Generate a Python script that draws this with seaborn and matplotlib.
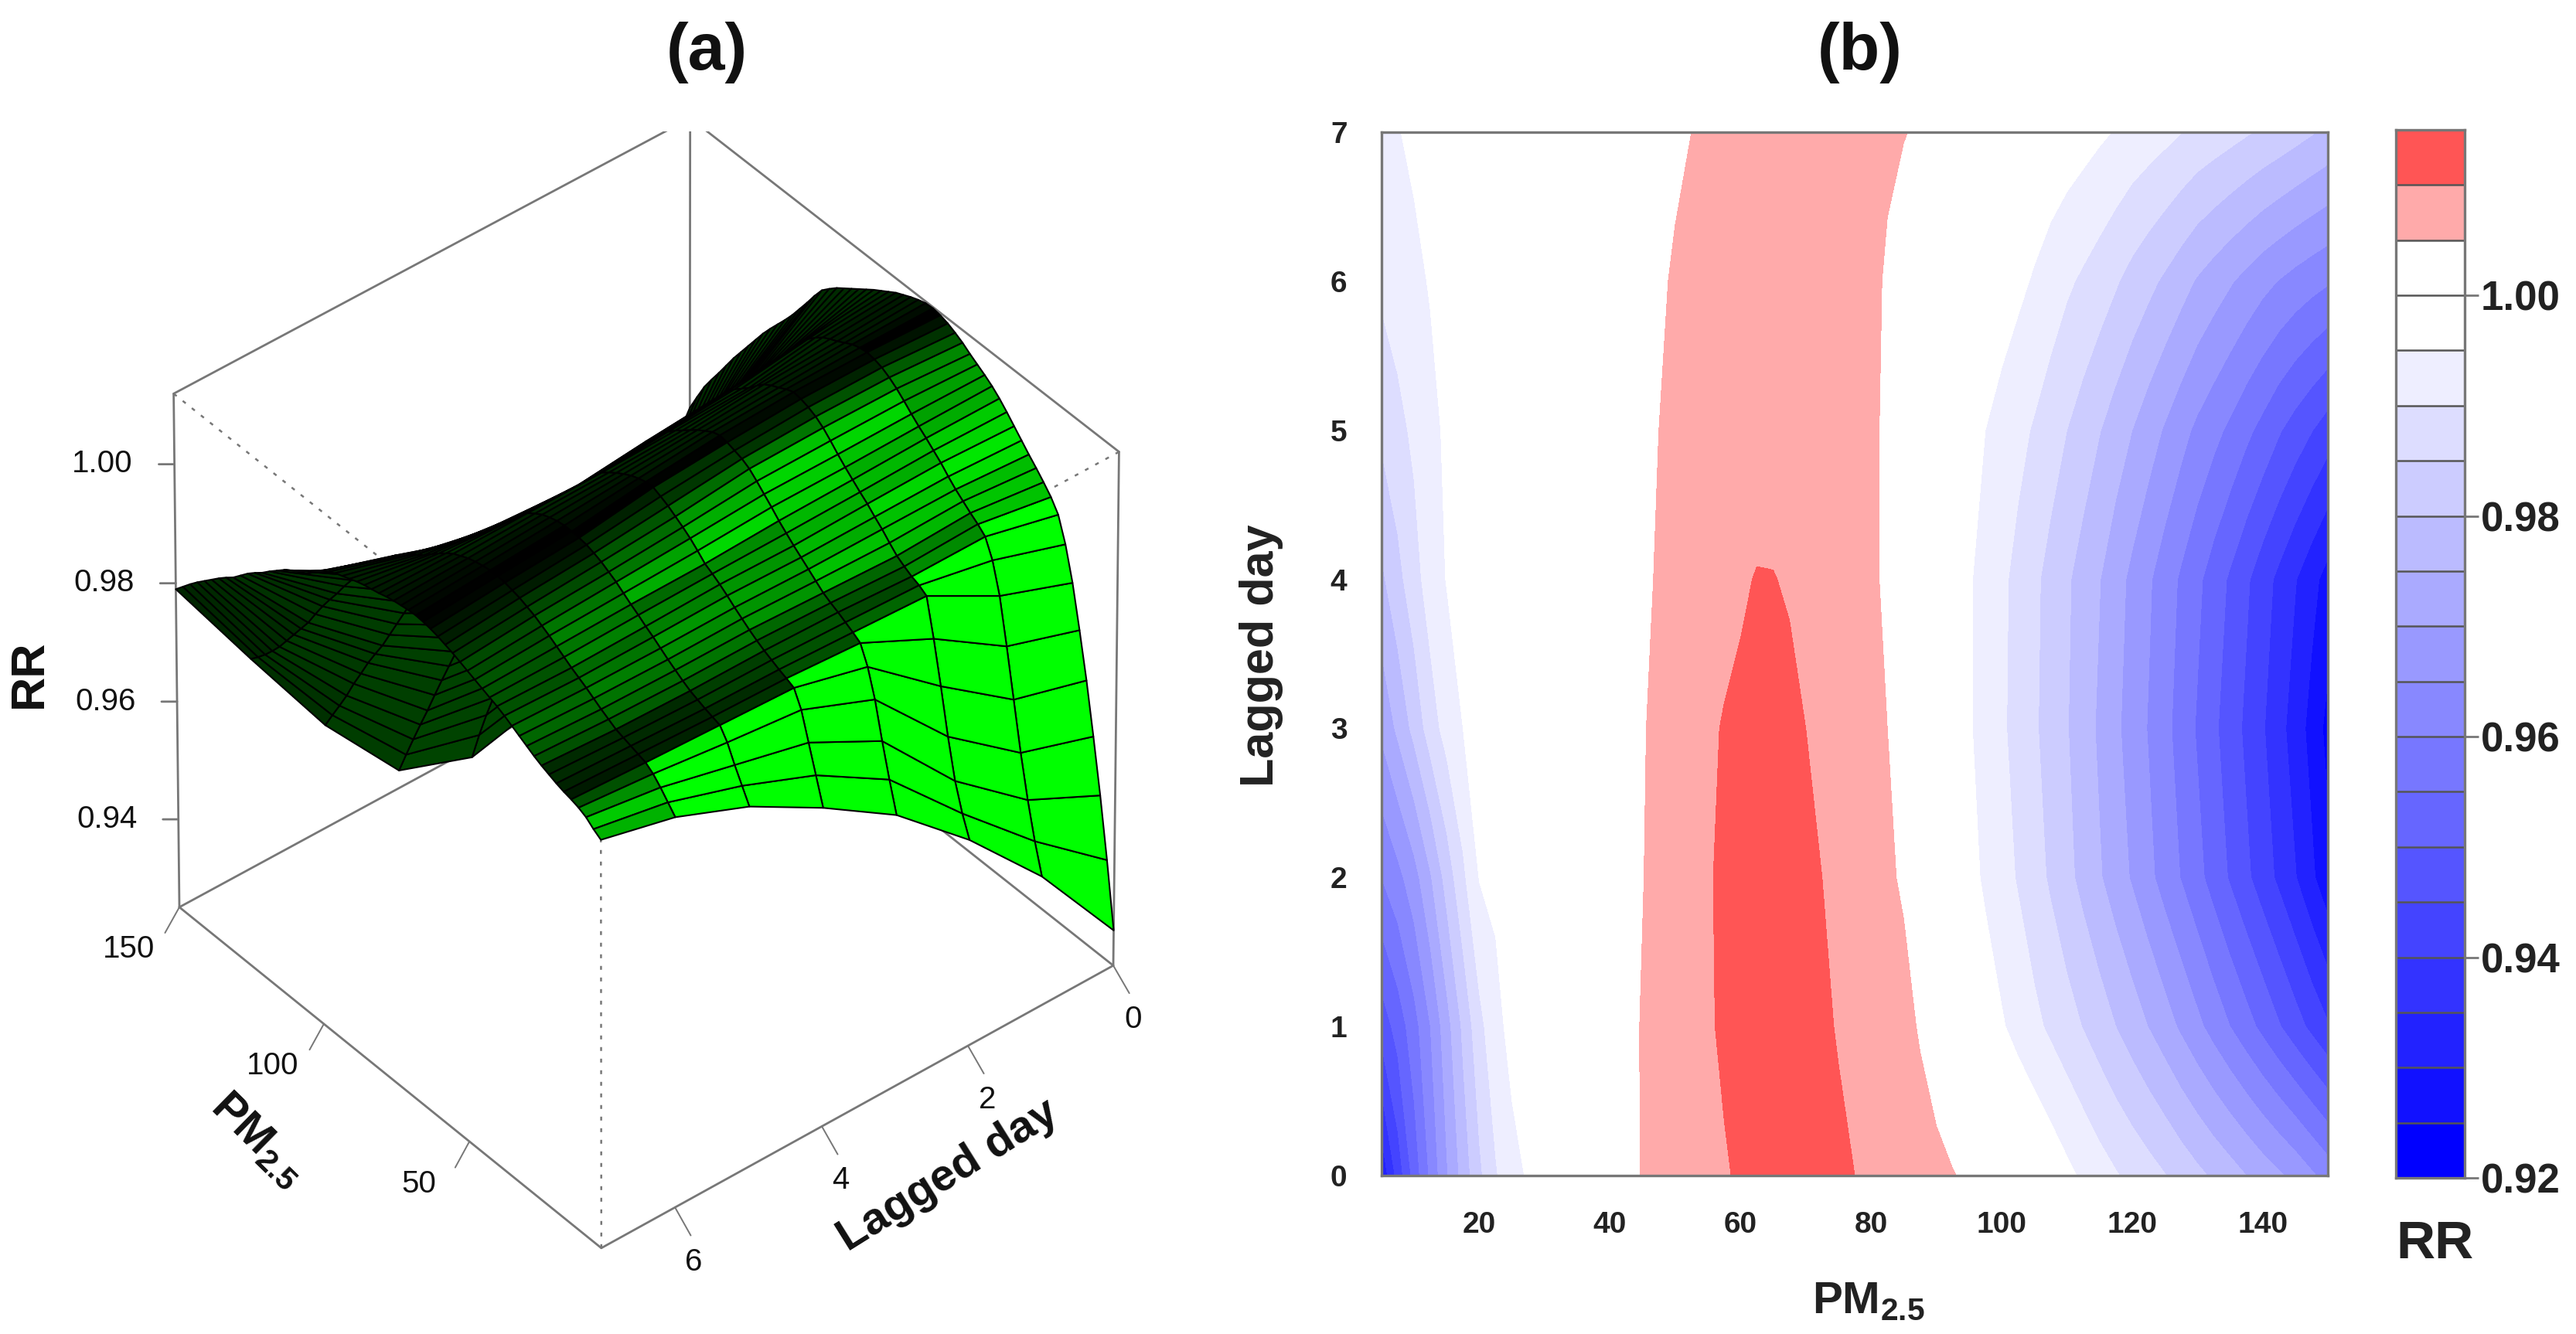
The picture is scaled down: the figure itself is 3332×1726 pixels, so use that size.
import numpy as np
import matplotlib
matplotlib.use("Agg")
import matplotlib.pyplot as plt
import seaborn as sns
from matplotlib.colors import BoundaryNorm, ListedColormap
from mpl_toolkits.mplot3d import proj3d

# values
pm = [5, 7.5, 10, 12.5, 15, 17.5, 20, 22.5, 25, 27.5, 30, 32.5, 35, 37.5, 40, 42.5, 45, 47.5, 50, 52.5,
      55, 57.5, 60, 62.5, 65, 67.5, 70, 72.5, 75, 77.5, 80, 82.5, 85, 87.5, 90, 92.5, 95, 97.5, 100, 102.5,
      105, 107.5, 110, 112.5, 115, 117.5, 120, 122.5, 125, 127.5, 130, 132.5, 135, 137.5, 140, 142.5, 145, 147.5, 150]
lag = [0, 1, 2, 3, 4, 5, 6, 7]
rr_lag0 = [.931, .942, .952, .961, .9695, .977, .984, .9895, .9935, .9955, .997, .9984, .9997, 1.0011, 1.0025, 1.0039,
           1.0052, 1.0063, 1.0072, 1.008, 1.0088, 1.0097, 1.0104, 1.011, 1.0114, 1.0116, 1.0115, 1.0111, 1.0106, 1.01,
           1.0094, 1.0086, 1.0078, 1.007, 1.0061, 1.0052, 1.0043, 1.0034, 1.0025, 1.0014, 1.0002, .9983, .9962, .9942,
           .9922, .9904, .9887, .987, .9852, .9832, .9812, .9792, .9772, .975, .9728, .9707, .9685, .9658, .963]
rr_lag1 = [.947, .952, .958, .965, .973, .981, .9885, .9935, .9965, .9976, .9985, .9995, 1.0005, 1.0017, 1.003, 1.0041,
           1.0052, 1.0062, 1.0073, 1.0085, 1.0096, 1.0105, 1.0112, 1.0116, 1.0118, 1.0116, 1.0112, 1.0105, 1.0098, 1.0092,
           1.0085, 1.0075, 1.0063, 1.0046, 1.0028, 1.001, .9992, .9974, .9955, .9934, .9912, .9891, .987, .9848,
           .9825, .98, .9775, .9749, .9722, .9692, .9662, .9631, .96, .9569, .9537, .9504, .9471, .9438, .9405]
rr_lag2 = [.96, .9635, .968, .9745, .982, .989, .9952, .996, .9965, .9972, .998, .9992, 1.0005, 1.0016, 1.0028, 1.0038,
           1.0049, 1.006, 1.0072, 1.0085, 1.0097, 1.0106, 1.0112, 1.0116, 1.0118, 1.0113, 1.0106, 1.01, 1.0092, 1.008,
           1.0067, 1.0056, 1.0045, 1.0031, 1.0015, .9992, .9965, .9943, .992, .9896, .987, .9843, .9814, .9785,
           .9755, .9725, .9695, .9663, .963, .9598, .9565, .953, .9495, .946, .9425, .939, .9353, .931, .9265]
rr_lag3 = [.971, .976, .9815, .9875, .992, .995, .9958, .9965, .9972, .9978, .9985, .9995, 1.0005, 1.0015, 1.0025, 1.0036,
           1.0047, 1.006, 1.0072, 1.0084, 1.0095, 1.0102, 1.0106, 1.011, 1.0112, 1.0108, 1.01, 1.0092, 1.0082, 1.0072,
           1.0062, 1.005, 1.0035, 1.002, 1.0005, .998, .9955, .9932, .9908, .9883, .9857, .983, .9803, .9773,
           .9742, .971, .9678, .9647, .9615, .958, .9545, .951, .9475, .944, .9405, .9367, .9327, .9283, .9235]
rr_lag4 = [.979, .9835, .988, .9925, .9952, .9958, .9963, .9969, .9975, .9982, .999, .9999, 1.0008, 1.0018, 1.0027, 1.0035,
           1.0042, 1.0054, 1.0065, 1.0074, 1.0082, 1.009, 1.0096, 1.01015, 1.0101, 1.0097, 1.0092, 1.0085, 1.0077, 1.0068,
           1.0058, 1.0042, 1.0025, 1.0009, .9992, .9974, .9955, .9933, .991, .9886, .986, .9834, .9807, .978,
           .9752, .972, .9688, .9657, .9625, .9593, .9561, .9527, .9493, .9458, .9422, .9388, .9353, .9317, .928]
rr_lag5 = [.986, .9885, .991, .9938, .9957, .9961, .9965, .997, .9975, .9982, .999, .9998, 1.0007, 1.0016, 1.0024, 1.0033,
           1.0041, 1.005, 1.0059, 1.0066, 1.0073, 1.0078, 1.0082, 1.0084, 1.0085, 1.0085, 1.0083, 1.0079, 1.0074, 1.0066,
           1.0057, 1.0043, 1.0028, 1.0014, 1.0, .9984, .9968, .995, .9932, .9914, .9895, .9873, .985, .9827,
           .9802, .9776, .975, .9723, .9695, .9667, .9639, .9615, .959, .9562, .9535, .9505, .9478, .9452, .9425]
rr_lag6 = [.991, .9925, .994, .9953, .9962, .9966, .997, .9974, .9978, .9985, .9992, 1.0, 1.0008, 1.0015, 1.0022, 1.003,
           1.0038, 1.0046, 1.0053, 1.006, 1.0065, 1.007, 1.0073, 1.0076, 1.0077, 1.0077, 1.0075, 1.0072, 1.0068, 1.0062,
           1.0056, 1.0047, 1.0037, 1.0026, 1.0015, 1.0005, .9995, .9985, .9975, .9961, .9945, .9927, .9908, .9892,
           .9875, .9855, .9833, .9813, .9792, .9769, .9745, .9725, .9705, .9685, .9665, .9648, .9632, .9618, .9605]
rr_lag7 = [.994, .9948, .9958, .9964, .9968, .9971, .9975, .998, .9985, .9991, .9998, 1.0005, 1.0012, 1.0019, 1.0025, 1.003,
           1.0035, 1.004, 1.0045, 1.005, 1.0055, 1.0059, 1.0063, 1.0066, 1.0068, 1.0069, 1.0068, 1.0066, 1.0064, 1.0061,
           1.0057, 1.0054, 1.0051, 1.0047, 1.0042, 1.0037, 1.0032, 1.0024, 1.0015, 1.0004, .9992, .9985, .9978, .9969,
           .9958, .9947, .9935, .9925, .9914, .9901, .9888, .9878, .9867, .9855, .9843, .9831, .9818, .9804, .979]

levels = [.92, .925, .93, .935, .94, .945, .95, .955, .96, .965, .97, .975, .98, .985, .99, .995, 1.0, 1.005, 1.01, 1.015]
pm_ticks_3d = [50, 100, 150]
lag_ticks_3d = [0, 2, 4, 6]
rr_ticks_3d = [.94, .96, .98, 1.0]
pm_ticks = [20, 40, 60, 80, 100, 120, 140]
lag_ticks = [0, 1, 2, 3, 4, 5, 6, 7]
rr_ticks = [.92, .94, .96, .98, 1.0]

W, H = 3332, 1726
GREY = "#777777"
INK = "#111111"

sns.set_theme(style="white")
plt.rcParams["font.family"] = "Liberation Sans"
plt.rcParams["mathtext.fontset"] = "custom"
plt.rcParams["mathtext.bf"] = "Liberation Sans:bold"
plt.rcParams["mathtext.rm"] = "Liberation Sans:bold"

RR = np.array([rr_lag0, rr_lag1, rr_lag2, rr_lag3, rr_lag4, rr_lag5, rr_lag6, rr_lag7])
PM, LAG = np.meshgrid(pm, lag)
zmin, zmax = 0.9250, 1.0118

fig = plt.figure(figsize=(W / 200, H / 200), dpi=200)


def fx(x):
    return x / W


def fy(y):
    return 1 - y / H


# (a) surface
ax3 = fig.add_axes([0.02, 0.1, 0.3, 0.3 * W / H], projection="3d", computed_zorder=False)
ax3.view_init(elev=41, azim=140.4)
ax3.set_proj_type("persp", focal_length=6)
ax3.set_box_aspect((1, 1, 1.02))
ax3.set_xlim(pm[0], pm[-1])
ax3.set_ylim(lag[0], lag[-1])
ax3.set_zlim(zmin, zmax)
ax3.set_axis_off()


def to_px(x, y, z):
    xs, ys, _ = proj3d.proj_transform(x, y, z, ax3.get_proj())
    px = ax3.transData.transform((xs, ys))
    return px[0], H - px[1]


# scale and move the axes until the box corners sit where they are in the picture
for _ in range(3):
    fig.canvas.draw()
    lx, ly = to_px(pm[-1], lag[-1], zmin)
    rx, ry = to_px(pm[0], lag[0], zmin)
    k = (1440 - 232) / (rx - lx)
    pos = ax3.get_position()
    ax3.set_position([pos.x0, pos.y0, pos.width * k, pos.height * k])
    fig.canvas.draw()
    lx, ly = to_px(pm[-1], lag[-1], zmin)
    rx, ry = to_px(pm[0], lag[0], zmin)
    dx = (232 + 1440) / 2 - (lx + rx) / 2
    dy = (1178 + 1245) / 2 - (ly + ry) / 2
    pos = ax3.get_position()
    ax3.set_position([pos.x0 + dx / W, pos.y0 - dy / H, pos.width, pos.height])
fig.canvas.draw()

x0, x1, y0, y1 = pm[0], pm[-1], lag[0], lag[-1]
solid = [
    ((x1, y1, zmax), (x1, y0, zmax)), ((x1, y0, zmax), (x0, y0, zmax)),
    ((x1, y1, zmin), (x1, y1, zmax)), ((x0, y0, zmin), (x0, y0, zmax)), ((x1, y0, zmin), (x1, y0, zmax)),
    ((x1, y1, zmin), (x0, y1, zmin)), ((x0, y1, zmin), (x0, y0, zmin)),
    ((x1, y1, zmin), (x1, y0, zmin)), ((x1, y0, zmin), (x0, y0, zmin)),
]
dotted = [
    ((x1, y1, zmax), (x0, y1, zmax)), ((x0, y0, zmax), (x0, y1, zmax)), ((x0, y1, zmin), (x0, y1, zmax)),
]
for a, b in solid:
    ax3.plot(*zip(a, b), color=GREY, lw=1.0, zorder=1)
for a, b in dotted:
    ax3.plot(*zip(a, b), color=GREY, lw=0.9, ls=(0, (2, 4)), zorder=1)


def box_label(x, y, z, text, **kw):
    px, py = to_px(x, y, z)
    fig.text(fx(px), fy(py), text, ha="center", va="center", color=INK, **kw)


# ticks and labels of the box
for v in pm_ticks_3d:
    ax3.plot([v, v - 4.6], [y1, y1 + .375], [zmin, zmin], color=GREY, lw=0.7, zorder=1)
    box_label(v - 3.7, y1 + .836, zmin, str(v), fontsize=14.5)
for v in lag_ticks_3d:
    ax3.plot([x0, x0 - 9.2], [v, v + .154], [zmin, zmin], color=GREY, lw=0.7, zorder=1)
    box_label(x0 - 16.2, v + .392, zmin, str(v), fontsize=14.5)
for v in rr_ticks_3d:
    ax3.plot([x1, x1 + 2.15], [y1, y1 + .126], [v, v], color=GREY, lw=1.0, zorder=1)
    box_label(x1 + 10, y1 + .58, v, f"{v:.2f}", fontsize=14.5)
fig.text(fx(333), fy(1475), r"$\mathbf{PM_{2.5}}$", fontsize=21, rotation=-44.5, ha="center", va="center", color=INK)
fig.text(fx(1226), fy(1521), "Lagged day", fontsize=21, fontweight="bold", rotation=32, ha="center", va="center",
         color=INK)

# shading from the face normals, light coming from the low PM side
nx = np.diff((RR[:-1, :] + RR[1:, :]) / 2, axis=1) / (zmax - zmin) * (len(pm) - 1)
ny = np.diff((RR[:, :-1] + RR[:, 1:]) / 2, axis=0) / (zmax - zmin) * (len(lag) - 1)
norm = np.sqrt(nx ** 2 + ny ** 2 + 1)
d = (nx * 1.0 - ny * 0.1) / norm
light = np.where(d > 0, (np.clip(d, 0, None) / 0.7) ** 2, 0.28 * np.abs(d))
light = np.pad(light, ((0, 1), (0, 1)), mode="edge")
faces = np.zeros(RR.shape + (4,))
faces[..., 1] = np.clip(light, 0, 1)
faces[..., 3] = 1
ax3.plot_surface(PM, LAG, RR, rstride=1, cstride=1, facecolors=faces, edgecolor="black", linewidth=0.75,
                 shade=False, antialiased=True, zorder=2)

# (b) filled contours
ax = fig.add_axes([fx(1787), fy(1521), fx(3011 - 1787), (1521 - 171) / H])
blues = sns.blend_palette(["#0000FF", "#FFFFFF"], 16)
reds = sns.blend_palette(["#FFFFFF", "#FF0000"], 4)
band_colors = list(blues[:15]) + ["#FFFFFF", "#FFFFFF"] + list(reds[1:3])
ax.contourf(PM, LAG, RR, levels=levels, colors=band_colors)
ax.set_xlim(pm[0], pm[-1])
ax.set_ylim(lag[0], lag[-1])
ax.set_xticks(pm_ticks)
ax.set_yticks(lag_ticks)
ax.tick_params(axis="x", length=8.5, width=1.2, color=GREY, pad=8, labelsize=14)
ax.tick_params(axis="y", length=8, width=1.2, color=GREY, pad=8, labelsize=14)
for lab in ax.get_xticklabels() + ax.get_yticklabels():
    lab.set_fontweight("bold")
    lab.set_color("#222222")
for s in ax.spines.values():
    s.set_color(GREY)
    s.set_linewidth(1.2)

# colour key
cax = fig.add_axes([fx(3099), fy(1524), fx(3188 - 3099), (1524 - 168) / H])
cmap = ListedColormap(band_colors)
cax.pcolormesh([0, 1], levels, np.array(levels[:-1]).reshape(-1, 1) + 0.0025, cmap=cmap,
               norm=BoundaryNorm(levels, cmap.N))
cax.hlines(levels[1:-1], 0, 1, color="#555555", lw=0.9)
cax.set_xlim(0, 1)
cax.set_ylim(levels[0], levels[-1])
cax.set_xticks([])
cax.yaxis.tick_right()
cax.set_yticks(rr_ticks)
cax.set_yticklabels([f"{v:.2f}" for v in rr_ticks], fontsize=19, fontweight="bold", color="#222222")
cax.tick_params(axis="y", length=6.5, width=1.0, color=GREY, pad=1)
for s in cax.spines.values():
    s.set_color(GREY)
    s.set_linewidth(1.2)

# titles and axis names
fig.text(fx(914), fy(68), "(a)", fontsize=31, fontweight="bold", ha="center", va="center", color=INK)
fig.text(fx(2406), fy(68), "(b)", fontsize=31, fontweight="bold", ha="center", va="center", color=INK)
fig.text(fx(38), fy(872), "RR", fontsize=22, fontweight="bold", rotation=90, ha="center", va="center", color=INK)
fig.text(fx(2417), fy(1684), r"$\mathbf{PM_{2.5}}$", fontsize=21, ha="center", va="center", color="#222222")
fig.text(fx(1632), fy(848), "Lagged day", fontsize=22, fontweight="bold", rotation=90, ha="center", va="center",
         color="#222222")
fig.text(fx(3150), fy(1610), "RR", fontsize=25, fontweight="bold", ha="center", va="center", color="#222222")

fig.savefig("out.png", dpi=200)
